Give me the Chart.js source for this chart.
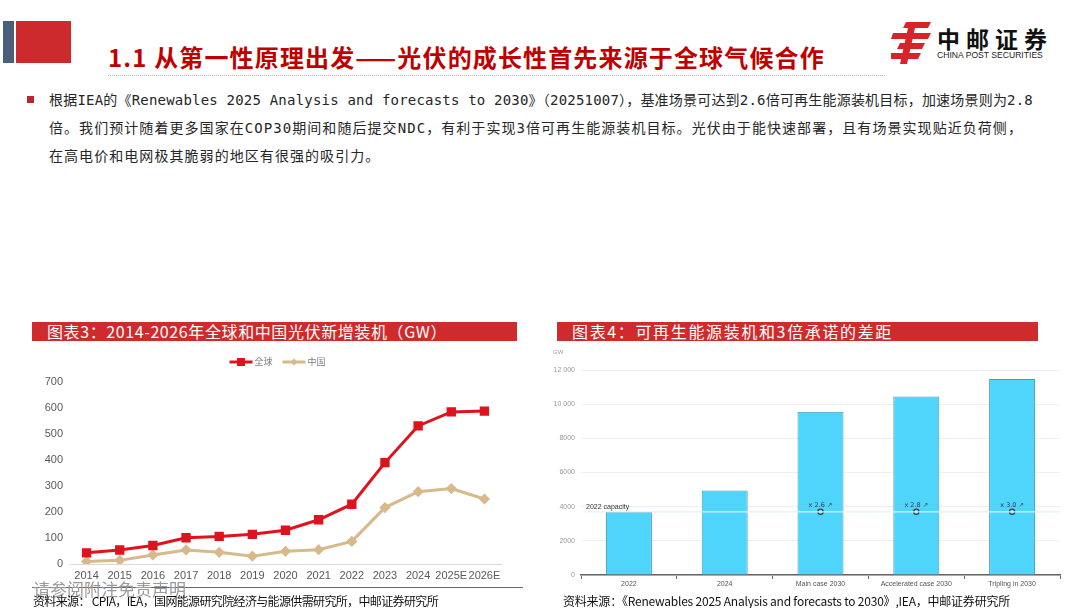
<!DOCTYPE html>
<html>
<head>
<meta charset="utf-8">
<script src="https://cdn.jsdelivr.net/npm/chart.js@4.4.1/dist/chart.umd.min.js"></script>
<style>
body{margin:0;width:1080px;height:608px;overflow:hidden;background:#fff;position:relative;font-family:"Noto Sans CJK SC",sans-serif}
.abs{position:absolute;white-space:nowrap}
.body{font-family:"DejaVu Sans Mono","Noto Sans CJK SC",monospace;font-size:14px;color:#262626;line-height:28px;left:49px}
.bar{background:#cf2b2d;height:19px}
.bartxt{color:#fff;font-size:16px;line-height:19px}
.src{font-size:12px;color:#111;line-height:16px}
</style>
</head>
<body>

<!-- ================= HEADER ================= -->
<div class="abs" style="left:3px;top:21px;width:11px;height:42px;background:#4b5f79"></div>
<div class="abs" style="left:16px;top:21px;width:55px;height:42px;background:#cc2a2c"></div>
<div class="abs fit" data-w="718" style="left:108px;top:40px;font-size:24px;font-weight:bold;color:#c00000;line-height:34px">1.1 从第一性原理出发——光伏的成长性首先来源于全球气候合作</div>
<div class="abs" style="left:108px;top:75px;width:777px;border-top:1px dotted #b0b0b0"></div>

<svg class="abs" style="left:891px;top:22px" width="42" height="42" viewBox="0 0 42 42">
  <polygon points="15,0 40,0 37,6 12,6" fill="#d9232a"/>
  <polygon points="2,11 40,11 37,17 0,17" fill="#d9232a"/>
  <polygon points="9,21 34,21 31,27 6,27" fill="#d9232a"/>
  <polygon points="0,31 30,31 27,37 0,37" fill="#d9232a"/>
  <polygon points="17,6 24,6 16,42 9,42" fill="#d9232a"/>
</svg>
<div class="abs" style="left:937px;top:23px;font-size:23px;font-weight:bold;color:#111;letter-spacing:6px;line-height:30px">中邮证券</div>
<div class="abs" style="left:937px;top:50px;font-size:8.6px;color:#222;font-family:'Liberation Sans',sans-serif;line-height:11px">CHINA POST SECURITIES</div>

<!-- ================= TEXTO ================= -->
<div class="abs" style="left:27px;top:96px;width:7px;height:7px;background:#b8282b"></div>
<div class="abs body fit" data-w="984" style="top:86px">根据IEA的《Renewables 2025 Analysis and forecasts to 2030》（20251007），基准场景可达到2.6倍可再生能源装机目标，加速场景则为2.8</div>
<div class="abs body fit" id="l2" data-w="974" style="top:114px">倍。我们预计随着更多国家在COP30期间和随后提交NDC，有利于实现3倍可再生能源装机目标。光伏由于能快速部署，且有场景实现贴近负荷侧，</div>
<div class="abs body" id="l3" style="top:142px">在高电价和电网极其脆弱的地区有很强的吸引力。</div>

<!-- ================= TITULOS GRAFICAS ================= -->
<div class="abs bar" style="left:32px;top:322px;width:485px"></div>
<div class="abs bartxt fit" data-w="400" style="left:47px;top:322px">图表3：2014-2026年全球和中国光伏新增装机（GW）</div>
<div class="abs bar" style="left:557px;top:322px;width:481px"></div>
<div class="abs bartxt fit" data-w="321" style="left:572px;top:322px">图表4：可再生能源装机和3倍承诺的差距</div>

<canvas id="lineChart" class="abs" style="left:20px;top:350px"></canvas>
<canvas id="barChart" class="abs" style="left:550px;top:345px"></canvas>
<div class="abs" style="left:553px;top:349px;font-size:6px;color:#999;font-family:'Liberation Sans',sans-serif">GW</div>

<!-- ================= FUENTES ================= -->
<div class="abs" style="left:32px;top:587px;width:491px;border-top:1px solid #b8484a"></div>
<div class="abs" style="left:33px;top:578px;font-size:17px;color:#9a9a9a;line-height:22px">请参阅附注免责声明</div>
<div class="abs src fit" data-w="405" style="left:33px;top:593px">资料来源： CPIA，IEA，国网能源研究院经济与能源供需研究所，中邮证券研究所</div>
<div class="abs src fit" data-w="447" style="left:563px;top:593px">资料来源：《Renewables 2025 Analysis and forecasts to 2030》,IEA，中邮证券研究所</div>

<script>
// ================= DATOS =================

const years = ["2014","2015","2016","2017","2018","2019","2020","2021","2022","2023","2024","2025E","2026E"];
const globalGW = [43, 54, 71, 101, 106, 114, 130, 170, 230, 390, 531, 585, 588];
const chinaGW = [10, 14, 35, 54, 45, 30, 49, 55, 87, 217, 278, 290, 250];
const lineMax = 700;
const lineStep = 100;

const capCats = ["2022","2024","Main case 2030","Accelerated case 2030","Tripling in 2030"];
const capGW = [3700, 4950, 9550, 10450, 11480];
const capacity2022 = 3700;
const multipliers = [null, null, 2.6, 2.8, 3.0];
const barMax = 12000;
const barStep = 2000;

// ================= AJUSTE DE TEXTO =================

function fitText()
{
    document.querySelectorAll(".fit").forEach(el => {
        el.style.letterSpacing = "0px";
        const natural = el.getBoundingClientRect().width;
        const n = [...el.textContent].length;
        const ls = (Number(el.dataset.w) - natural) / n;
        el.style.letterSpacing = ls + "px";
    });
    document.getElementById("l3").style.letterSpacing =
        document.getElementById("l2").style.letterSpacing;
}

// ================= LEYENDA =================

const lineLegend = {
    id: "lineLegend",
    afterDraw(chart)
    {
        const ctx = chart.ctx;
        ctx.save();
        ctx.font = '9px "Noto Sans CJK SC"';
        const items = chart.data.datasets.map(d => ({
            d: d,
            w: 23 + 2 + ctx.measureText(d.label).width
        }));
        const gap = 10;
        const total = items.reduce((s, i) => s + i.w, 0) + gap * (items.length - 1);
        let x = chart.width / 2 - total / 2;
        const y = 12;
        items.forEach(({d, w}) => {
            ctx.strokeStyle = d.borderColor;
            ctx.lineWidth = 3;
            ctx.beginPath();
            ctx.moveTo(x, y);
            ctx.lineTo(x + 23, y);
            ctx.stroke();
            ctx.fillStyle = d.pointBackgroundColor;
            const cx = x + 11.5;
            if(d.pointStyle === "rect")
                ctx.fillRect(cx - 4, y - 4, 8, 8);
            else
            {
                ctx.beginPath();
                ctx.moveTo(cx, y - 3.5);
                ctx.lineTo(cx + 3.5, y);
                ctx.lineTo(cx, y + 3.5);
                ctx.lineTo(cx - 3.5, y);
                ctx.fill();
            }
            ctx.fillStyle = "#7f7f7f";
            ctx.textBaseline = "middle";
            ctx.fillText(d.label, x + 25, y);
            x += w + gap;
        });
        ctx.restore();
    }
};

// ================= CAPACIDAD 2022 =================

const capacityLine = {
    id: "capacityLine",
    afterDatasetsDraw(chart)
    {
        const ctx = chart.ctx;
        const area = chart.chartArea;
        const y = chart.scales.y.getPixelForValue(capacity2022);
        ctx.save();
        ctx.strokeStyle = "rgba(225,240,248,0.95)";
        ctx.lineWidth = 1.2;
        ctx.beginPath();
        ctx.moveTo(area.left + 4, y);
        ctx.lineTo(area.right, y);
        ctx.stroke();

        ctx.font = '7px "Liberation Sans"';
        ctx.fillStyle = "#333";
        ctx.textBaseline = "bottom";
        ctx.textAlign = "left";
        ctx.fillText("2022 capacity", area.left + 5, y - 1);

        ctx.fillStyle = "#1f3b63";
        ctx.textAlign = "center";
        ctx.font = '6.5px "DejaVu Sans"';
        multipliers.forEach((m, i) => {
            if(m === null)
                return;
            const x = chart.scales.x.getPixelForValue(i);
            ctx.fillText("x " + m.toFixed(1) + " ↗", x, y - 3);
        });
        ctx.restore();
    }
};

function buildCharts()
{
    // ================= GRAFICA LINEAS =================

    const lc = document.getElementById("lineChart");
    lc.width = 515;
    lc.height = 240;

    new Chart(lc, {
        type: "line",
        data: {
            labels: years,
            datasets: [
                {
                    label: "全球",
                    data: globalGW,
                    borderColor: "#e0121d",
                    backgroundColor: "#e0121d",
                    pointBackgroundColor: "#e0121d",
                    pointBorderColor: "#e0121d",
                    pointStyle: "rect",
                    pointRadius: 4.5,
                    borderWidth: 3,
                    tension: 0
                },
                {
                    label: "中国",
                    data: chinaGW,
                    borderColor: "#d7b98c",
                    backgroundColor: "#d7b98c",
                    pointBackgroundColor: "#d7b98c",
                    pointBorderColor: "#d7b98c",
                    pointStyle: "rectRot",
                    pointRadius: 3.5,
                    borderWidth: 3,
                    tension: 0
                }
            ]
        },
        options: {
            responsive: false,
            animation: false,
            layout: { padding: { top: 32, right: 34, left: 0, bottom: 0 } },
            plugins: { legend: { display: false }, tooltip: { enabled: false } },
            scales: {
                x: {
                    offset: true,
                    afterFit(s) { s.height = 26; },
                    grid: { display: false, drawTicks: false },
                    border: { display: true, color: "#d9d9d9", width: 1 },
                    ticks: { color: "#595959", font: { family: "Liberation Sans", size: 11 }, padding: 5, maxRotation: 0, autoSkip: false }
                },
                y: {
                    min: 0,
                    max: lineMax,
                    afterFit(s) { s.width = 50; },
                    grid: { display: false, drawTicks: false },
                    border: { display: false },
                    ticks: { stepSize: lineStep, color: "#595959", font: { family: "Liberation Sans", size: 11 }, padding: 7 }
                }
            }
        },
        plugins: [lineLegend]
    });

    // ================= GRAFICA BARRAS =================

    const bc = document.getElementById("barChart");
    bc.width = 525;
    bc.height = 250;

    new Chart(bc, {
        type: "bar",
        data: {
            labels: capCats,
            datasets: [
                {
                    type: "line",
                    label: "2022 capacity",
                    data: multipliers.map(m => m === null ? null : capacity2022),
                    showLine: false,
                    pointStyle: "circle",
                    pointRadius: 2.6,
                    pointBorderWidth: 1.3,
                    pointBorderColor: "#3b3b3b",
                    pointBackgroundColor: "rgba(255,255,255,0.3)",
                    order: 1
                },
                {
                    label: "GW",
                    data: capGW,
                    backgroundColor: "#4fd5fc",
                    borderColor: "#3a9dc0",
                    borderWidth: 1,
                    categoryPercentage: 1,
                    barPercentage: 0.48,
                    order: 2
                }
            ]
        },
        options: {
            responsive: false,
            animation: false,
            layout: { padding: { top: 25, right: 15, left: 0, bottom: 0 } },
            plugins: { legend: { display: false }, tooltip: { enabled: false } },
            scales: {
                x: {
                    afterFit(s) { s.height = 20; },
                    grid: { offset: true, drawOnChartArea: false, drawTicks: true, tickLength: 4, color: "#666", lineWidth: 1 },
                    border: { display: true, color: "#666", width: 1.5 },
                    ticks: { color: "#555", font: { family: "Liberation Sans", size: 7 }, padding: 1, maxRotation: 0, autoSkip: false }
                },
                y: {
                    min: 0,
                    max: barMax,
                    afterFit(s) { s.width = 31; },
                    grid: { color: "#efefef", drawTicks: false },
                    border: { display: false },
                    ticks: {
                        stepSize: barStep,
                        color: "#999",
                        font: { family: "Liberation Sans", size: 7 },
                        padding: 6,
                        callback: v => v >= 10000 ? String(v).replace(/(\d{2})(\d{3})$/, "$1 $2") : String(v)
                    }
                }
            }
        },
        plugins: [capacityLine]
    });
}

document.fonts.ready.then(() => {
    fitText();
    buildCharts();
});
</script>
</body>
</html>
